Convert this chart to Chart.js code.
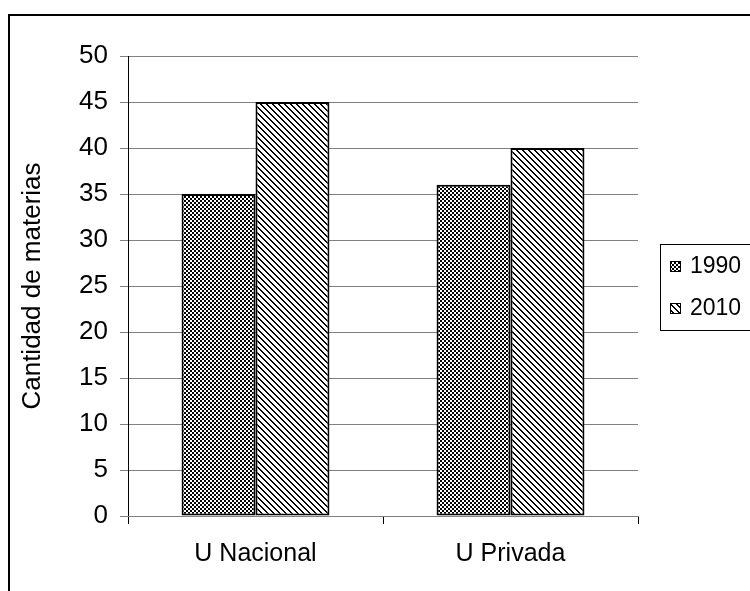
<!DOCTYPE html>
<html>
<head>
<meta charset="utf-8">
<title>Cantidad de materias</title>
<script src="https://cdn.jsdelivr.net/npm/chart.js@4.4.1/dist/chart.umd.min.js"></script>
<style>
  html, body { margin: 0; padding: 0; background: #fff; overflow: hidden; }
  #chartBox { position: absolute; left: 0; top: 0; width: 750px; height: 591px; }
</style>
</head>
<body>
<div id="chartBox"><canvas id="materiasChart" width="750" height="591"></canvas></div>
<script>
// data
const categories = ['U Nacional', 'U Privada'];
const seriesNames = ['1990', '2010'];
const values1990 = [35, 36];
const values2010 = [45, 40];
const yMin = 0;
const yMax = 50;
const yStep = 5;

const FONT = 'Arial, "Liberation Sans", sans-serif';

// checkerboard fill (1990)
function makeChecker() {
    const c = document.createElement('canvas');
    c.width = 4; c.height = 4;
    const g = c.getContext('2d');
    g.fillStyle = '#fff';
    g.fillRect(0, 0, 4, 4);
    g.fillStyle = '#000';
    g.fillRect(0, 0, 2, 2);
    g.fillRect(2, 2, 2, 2);
    return g.createPattern(c, 'repeat');
}

// backslash diagonal fill (2010)
function makeDiagonal() {
    const n = 6;
    const c = document.createElement('canvas');
    c.width = n; c.height = n;
    const g = c.getContext('2d');
    g.fillStyle = '#fff';
    g.fillRect(0, 0, n, n);
    g.fillStyle = '#000';
    for (let y = 0; y < n; y++) {
        for (let x = 0; x < n; x++) {
            if (((x - y) % n + n) % n < 2) g.fillRect(x, y, 1, 1);
        }
    }
    return g.createPattern(c, 'repeat');
}

const fills = [makeChecker(), makeDiagonal()];

// outer frame + legend box drawn on the canvas
const framePlugin = {
    id: 'frameAndLegend',
    afterDraw(chart) {
        const ctx = chart.ctx;
        ctx.save();
        ctx.strokeStyle = '#000';
        ctx.lineWidth = 2;
        ctx.strokeRect(9, 15, 800, 700);

        ctx.lineWidth = 1;
        ctx.strokeRect(660.5, 244.5, 120, 86);

        chart.data.datasets.forEach((ds, i) => {
            const cy = 266 + i * 42;
            ctx.fillStyle = ds.backgroundColor;
            ctx.fillRect(670, cy - 5, 11, 11);
            ctx.strokeStyle = '#000';
            ctx.strokeRect(670.5, cy - 4.5, 10, 10);
            ctx.fillStyle = '#000';
            ctx.font = '23px ' + FONT;
            ctx.textBaseline = 'middle';
            ctx.textAlign = 'left';
            ctx.fillText(ds.label, 690, cy + 1);
        });
        ctx.restore();
    }
};

const chartCanvas = document.getElementById('materiasChart');
const ctx = chartCanvas.getContext('2d');
chartCanvas.chart = new Chart(ctx, {
    type: 'bar',
    data: {
        labels: categories,
        datasets: [
            {
                label: seriesNames[0],
                data: values1990,
                backgroundColor: fills[0],
                borderColor: '#000',
                borderWidth: 2,
                borderSkipped: false
            },
            {
                label: seriesNames[1],
                data: values2010,
                backgroundColor: fills[1],
                borderColor: '#000',
                borderWidth: 2,
                borderSkipped: false
            }
        ]
    },
    options: {
        responsive: false,
        animation: false,
        layout: {
            padding: { left: 0, top: 56, right: 112, bottom: 0 }
        },
        datasets: {
            bar: { categoryPercentage: 0.58, barPercentage: 1.0 }
        },
        plugins: {
            legend: { display: false },
            tooltip: { enabled: false }
        },
        scales: {
            y: {
                min: yMin,
                max: yMax,
                afterFit: scale => { scale.width = 128; },
                ticks: {
                    stepSize: yStep,
                    color: '#000',
                    padding: 12,
                    font: { family: FONT, size: 26 }
                },
                grid: {
                    color: '#808080',
                    tickColor: '#808080',
                    tickLength: 8,
                    lineWidth: 1
                },
                border: { color: '#000', width: 1 },
                title: {
                    display: true,
                    text: 'Cantidad de materias',
                    color: '#000',
                    font: { family: FONT, size: 26 },
                    padding: { top: 17, bottom: 0 }
                }
            },
            x: {
                afterFit: scale => { scale.height = 75; },
                ticks: {
                    color: '#000',
                    padding: 15,
                    font: { family: FONT, size: 25 }
                },
                grid: {
                    offset: true,
                    drawOnChartArea: false,
                    color: '#000',
                    tickLength: 8
                },
                border: { color: '#808080', width: 1 }
            }
        }
    },
    plugins: [framePlugin]
});
</script>
</body>
</html>
